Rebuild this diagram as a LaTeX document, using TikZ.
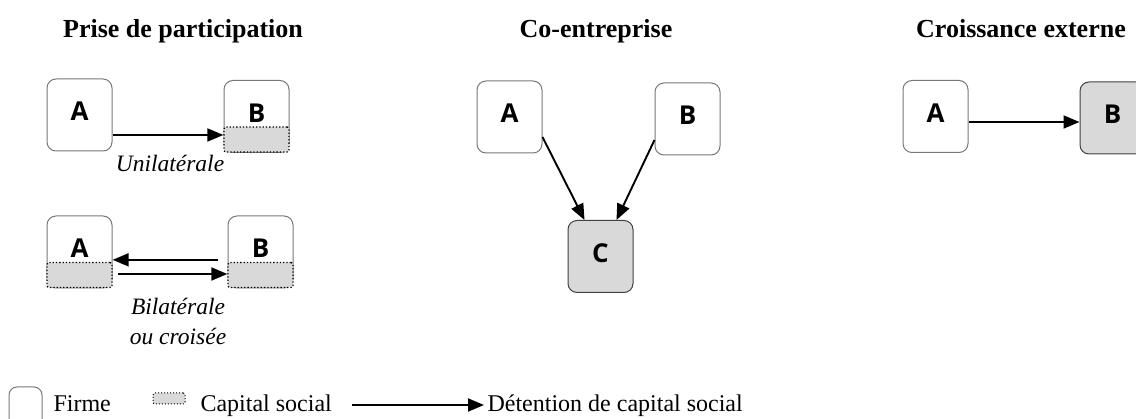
\documentclass[tikz,border=0pt]{standalone}
\usepackage{fontspec}
\setmainfont{Liberation Serif}
\newfontfamily\boxfont{Open Sans}
\usetikzlibrary{arrows.meta,positioning}
\definecolor{capgray}{HTML}{D9D9D9}
\definecolor{edgegray}{HTML}{787878}

\begin{document}
\begin{tikzpicture}[x=1pt,y=-1pt,
    firm/.style={draw=edgegray,line width=1pt,rounded corners=9pt,minimum width=65pt,minimum height=72pt,
      inner sep=0pt,text depth=7pt,font={\boxfont\bfseries\fontsize{26}{26}\selectfont}},
    firmfill/.style={firm,fill=capgray,draw=black!75},
    capital/.style={draw,dotted,line width=1.3pt,fill=capgray,rounded corners=2pt,minimum width=65pt,
      minimum height=25pt,inner sep=0pt},
    own/.style={line width=1.9pt,-{Triangle[length=16pt,width=13pt]}},
    title/.style={anchor=base,font={\bfseries\fontsize{26}{31}\selectfont}},
    mode/.style={anchor=base,font={\itshape\fontsize{23.5}{30}\selectfont}},
    legtext/.style={anchor=base west,font={\fontsize{24}{28}\selectfont}}]
  \clip (0,0) rectangle (1136,419);
  % titles
  \node[title] (tprise) at (183,38) {Prise de participation};
  \node[title] (tco) at (596,38) {Co-entreprise};
  \node[title] (tcroiss) at (1021,38) {Croissance externe};
  % prise de participation, unilaterale
  \node[firm] (uA) at (79.5,115) {A};
  \node[firm] (uB) at (256.5,116.5) {B};
  \node[capital] (ucapB) at (256.5,139.5) {};
  \draw[own] ([yshift=4.5pt]ucapB.west -| uA.east) -- ([yshift=4.5pt]ucapB.west);
  \node[mode] (uni) at (170,172) {Unilatérale};
  % prise de participation, bilaterale
  \node[firm] (bA) at (79.5,252) {A};
  \node[firm] (bB) at (260.5,252) {B};
  \node[capital] (bcapA) at (79.5,275) {};
  \node[capital] (bcapB) at (260.5,275) {};
  \draw[own] ([xshift=-9pt,yshift=2pt]bcapB.north west) -- ([yshift=2pt]bcapA.north east);
  \draw[own] ([xshift=5pt,yshift=1pt]bcapA.east) -- ([yshift=1pt]bcapB.west);
  \node[mode] (bi) at (178,315) {Bilatérale};
  \node[mode] (bicr) at (178,345) {ou croisée};
  % co-entreprise
  \node[firm] (cA) at (509.5,117) {A};
  \node[firm] (cB) at (687.5,119) {B};
  \node[firmfill] (cC) at (600.5,256.5) {C};
  \draw[own] ([yshift=-20pt]cA.east) -- ([xshift=-16pt]cC.north);
  \draw[own] ([yshift=-21pt]cB.west) -- ([xshift=16pt]cC.north);
  % croissance externe
  \node[firm] (eA) at (935.5,116.5) {A};
  \node[firmfill] (eB) at (1112.5,118) {B};
  \draw[own] ([yshift=-4pt]eB.west -| eA.east) -- ([yshift=-4pt]eB.west);
  % legende
  \node[firm,minimum width=33pt,minimum height=70pt,rounded corners=8pt] (lfirm) at (25.5,422) {};
  \node[legtext] (lfirmtxt) at (50,412) {Firme};
  \node[capital,minimum width=32pt,minimum height=11pt,line width=1pt] (lcap) at (169,398.5) {};
  \node[legtext] (lcaptxt) at (197,412) {Capital social};
  \node[legtext] (ldet) at (484,412) {Détention de capital social};
  \coordinate (lstart) at (352,405);
  \draw[own] (lstart) -- (lstart -| ldet.west);
\end{tikzpicture}
\end{document}
